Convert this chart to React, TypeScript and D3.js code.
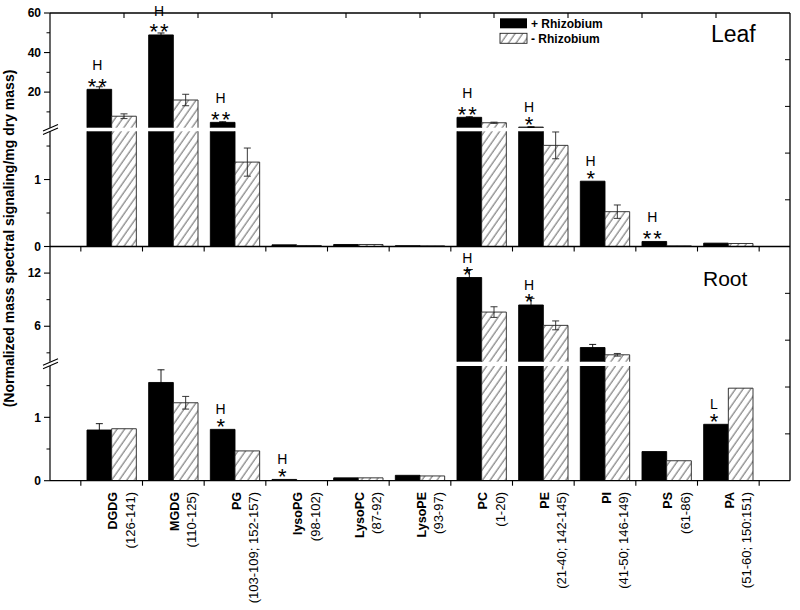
import React from "react";
import * as d3 from "d3";

const categories = ["DGDG", "MGDG", "PG", "lysoPG", "LysoPC", "LysoPE", "PC", "PE", "PI", "PS", "PA"];
const ranges = ["(126-141)", "(110-125)", "(103-109; 152-157)", "(98-102)", "(87-92)", "(93-97)", "(1-20)", "(21-40; 142-145)", "(41-50; 146-149)", "(61-86)", "(51-60; 150:151)"];
const seriesNames = ["+ Rhizobium", "- Rhizobium"];

const leafPlus = [21.4, 48.9, 4.7, 0.025, 0.03, 0.012, 7.25, 2.3, 0.975, 0.075, 0.05];
const leafPlusErr = [1.3, 1.0, 0.3, 0, 0, 0, 0.3, 0.2, 0, 0, 0];
const leafMinus = [7.8, 16.0, 1.26, 0.015, 0.03, 0.01, 4.5, 1.51, 0.52, 0.01, 0.045];
const leafMinusErr = [1.2, 2.9, 0.21, 0, 0, 0, 0.3, 0.2, 0.1, 0, 0];

const rootPlus = [0.8, 1.55, 0.81, 0.02, 0.045, 0.085, 11.5, 8.4, 3.6, 0.46, 0.89];
const rootPlusErr = [0.1, 0.2, 0, 0, 0, 0, 0.9, 0.75, 0.35, 0, 0];
const rootMinus = [0.82, 1.23, 0.47, 0.003, 0.045, 0.075, 7.6, 6.1, 2.78, 0.315, 1.46];
const rootMinusErr = [0, 0.1, 0, 0, 0, 0, 0.6, 0.5, 0.15, 0, 0];

const leafMarks = [
  { cat: "DGDG", level: "H", sig: "**" },
  { cat: "MGDG", level: "H", sig: "**" },
  { cat: "PG", level: "H", sig: "**" },
  { cat: "PC", level: "H", sig: "**" },
  { cat: "PE", level: "H", sig: "*" },
  { cat: "PI", level: "H", sig: "*" },
  { cat: "PS", level: "H", sig: "**" },
];
const rootMarks = [
  { cat: "PG", level: "H", sig: "*" },
  { cat: "lysoPG", level: "H", sig: "*" },
  { cat: "PC", level: "H", sig: "*" },
  { cat: "PE", level: "H", sig: "*" },
  { cat: "PA", level: "L", sig: "*" },
];

const leafLowerDomain = [0, 1.72];
const leafUpperDomain = [2, 60];
const leafLowerTicks = [0, 1];
const leafLowerMinor = [0.5, 1.5];
const leafUpperTicks = [20, 40, 60];
const leafUpperMinor = [10, 30, 50];

const rootLowerDomain = [0, 1.81];
const rootUpperDomain = [2, 15];
const rootLowerTicks = [0, 1];
const rootLowerMinor = [0.5, 1.5];
const rootUpperTicks = [6, 12];
const rootUpperMinor = [3, 9];

const yTitle = "(Normalized mass spectral signaling/mg dry mass)";
const FONT = "'Liberation Sans', Arial, Helvetica, sans-serif";

export default function App() {
  const W = 800, H = 610;
  const L = 50, R = 790, T = 13, M = 246.5, B = 480.7;

  const x = d3.scaleBand<string>().domain(categories).range([L, R]).paddingInner(0).paddingOuter(0.5);
  const bw = x.bandwidth();
  const xs = d3.scaleBand<string>().domain(["plus", "minus"]).range([0, bw]).paddingInner(0).paddingOuter(0.25);
  const sw = xs.bandwidth();
  const boundaries = categories.map((c) => x(c) as number).concat([(x(categories[categories.length - 1]) as number) + bw]);
  const topScale = d3.scaleLinear().domain([0, 10]).range([L, R]);

  const panels = [
    {
      name: "Leaf", nameX: 711, nameY: 41.5, nameSize: 23,
      plus: leafPlus, plusErr: leafPlusErr, minus: leafMinus, minusErr: leafMinusErr, marks: leafMarks,
      lower: d3.scaleLinear().domain(leafLowerDomain).range([M, 131.3]),
      upper: d3.scaleLinear().domain(leafUpperDomain).range([127.7, T]),
      lt: leafLowerTicks, lm: leafLowerMinor, ut: leafUpperTicks, um: leafUpperMinor,
      top: T, bottom: M, gapTop: 127.7, gapBottom: 131.3,
    },
    {
      name: "Root", nameX: 703, nameY: 286, nameSize: 21,
      plus: rootPlus, plusErr: rootPlusErr, minus: rootMinus, minusErr: rootMinusErr, marks: rootMarks,
      lower: d3.scaleLinear().domain(rootLowerDomain).range([B, 366]),
      upper: d3.scaleLinear().domain(rootUpperDomain).range([361.7, M]),
      lt: rootLowerTicks, lm: rootLowerMinor, ut: rootUpperTicks, um: rootUpperMinor,
      top: M, bottom: B, gapTop: 361.7, gapBottom: 366,
    },
  ];

  const renderPanel = (p: any, pi: number) => {
    const lowMax = p.lower.domain()[1];
    const upMin = p.upper.domain()[0];
    const upMax = p.upper.domain()[1];
    const yOf = (v: number) => (v <= lowMax ? p.lower(v) : v >= upMin ? p.upper(Math.min(v, upMax)) : p.lower(lowMax));
    const pieces = (v: number) => {
      const out: { y0: number; y1: number; isTop: boolean }[] = [];
      out.push({ y0: p.lower(0), y1: p.lower(Math.min(v, lowMax)), isTop: v <= lowMax });
      if (v > upMin) out.push({ y0: p.upper(upMin), y1: p.upper(Math.min(v, upMax)), isTop: true });
      return out;
    };
    const bars: any[] = [];
    const errs: any[] = [];
    categories.forEach((c, i) => {
      (["plus", "minus"] as const).forEach((s) => {
        const v = s === "plus" ? p.plus[i] : p.minus[i];
        const e = s === "plus" ? p.plusErr[i] : p.minusErr[i];
        const x0 = (x(c) as number) + (xs(s) as number);
        const x1 = x0 + sw;
        const fill = s === "plus" ? "#000" : "url(#hatch)";
        const stroke = s === "plus" ? "#000" : "#222";
        pieces(v).forEach((pc, k) => {
          const d = pc.isTop
            ? `M${x0},${pc.y0}V${pc.y1}H${x1}V${pc.y0}`
            : `M${x0},${pc.y0}V${pc.y1}M${x1},${pc.y1}V${pc.y0}`;
          bars.push(
            <g key={`${pi}-${c}-${s}-${k}`}>
              <rect x={x0} y={Math.min(pc.y0, pc.y1)} width={sw} height={Math.abs(pc.y0 - pc.y1)} fill={fill} />
              <path d={d} fill="none" stroke={stroke} strokeWidth={0.9} />
            </g>
          );
        });
        if (e > 0) {
          const cx = (x0 + x1) / 2;
          const ya = yOf(v - e), yb = yOf(v + e);
          errs.push(
            <g key={`e${pi}-${c}-${s}`} stroke={stroke} strokeWidth={0.9}>
              <line x1={cx} x2={cx} y1={ya} y2={yb} />
              <line x1={cx - 3.5} x2={cx + 3.5} y1={yb} y2={yb} />
              <line x1={cx - 3.5} x2={cx + 3.5} y1={ya} y2={ya} />
            </g>
          );
        }
      });
    });

    const marks = p.marks.map((m: any) => {
      const i = categories.indexOf(m.cat);
      const cx = (x(m.cat) as number) + (xs("plus") as number) + sw / 2 - 2;
      const topY = yOf(p.plus[i]);
      const starC = topY - 8;
      const labC = starC - (m.sig.length === 2 ? 16 : 12);
      return (
        <g key={`m${pi}-${m.cat}`} fontFamily={FONT} textAnchor="middle">
          <text x={cx} y={labC + 5} fontSize={14}>{m.level}</text>
          <text x={cx + (m.sig.length === 2 ? 1 : 0)} y={starC + 12.5} fontSize={22} letterSpacing={m.sig.length === 2 ? 2 : 0}>{m.sig}</text>
        </g>
      );
    });

    const rScale = d3.scaleLinear().domain([0, 5]).range([p.bottom, p.top]);
    const breakY = (p.gapTop + p.gapBottom) / 2;

    return (
      <g key={`panel${pi}`}>
        {bars}
        {errs}
        {marks}
        <line x1={L} x2={L} y1={p.top} y2={p.gapTop} stroke="#000" strokeWidth={1.2} />
        <line x1={L} x2={L} y1={p.gapBottom} y2={p.bottom} stroke="#000" strokeWidth={1.2} />
        <g stroke="#000" strokeWidth={1.1}>
          <line x1={L - 7} x2={L + 8} y1={breakY + 1.5} y2={breakY - 5} />
          <line x1={L - 7} x2={L + 8} y1={breakY + 5} y2={breakY - 1.5} />
        </g>
        {p.lt.map((t: number) => (
          <g key={`lt${t}`}>
            <line x1={L - 6} x2={L} y1={p.lower(t)} y2={p.lower(t)} stroke="#000" strokeWidth={1.1} />
            <text x={41} y={p.lower(t)} dy="0.35em" textAnchor="end" fontFamily={FONT} fontWeight="bold" fontSize={12}>{t}</text>
          </g>
        ))}
        {p.ut.map((t: number) => (
          <g key={`ut${t}`}>
            <line x1={L - 6} x2={L} y1={p.upper(t)} y2={p.upper(t)} stroke="#000" strokeWidth={1.1} />
            <text x={41} y={p.upper(t)} dy="0.35em" textAnchor="end" fontFamily={FONT} fontWeight="bold" fontSize={12}>{t}</text>
          </g>
        ))}
        {p.lm.map((t: number) => (
          <line key={`lm${t}`} x1={L - 3.5} x2={L} y1={p.lower(t)} y2={p.lower(t)} stroke="#000" strokeWidth={1} />
        ))}
        {p.um.map((t: number) => (
          <line key={`um${t}`} x1={L - 3.5} x2={L} y1={p.upper(t)} y2={p.upper(t)} stroke="#000" strokeWidth={1} />
        ))}
        {[1, 2, 3, 4].map((t) => (
          <line key={`r${t}`} x1={R - 5} x2={R} y1={rScale(t)} y2={rScale(t)} stroke="#000" strokeWidth={1} />
        ))}
        {boundaries.map((b, k) => (
          <line key={`b${k}`} x1={b} x2={b} y1={p.bottom} y2={p.bottom + 5} stroke="#000" strokeWidth={1.1} />
        ))}
        <text x={p.nameX} y={p.nameY} fontFamily={FONT} fontSize={p.nameSize}>{p.name}</text>
      </g>
    );
  };

  return (
    <svg width={W} height={H} style={{ display: "block", position: "absolute", left: 0, top: 0 }} xmlns="http://www.w3.org/2000/svg">
      <defs>
        <pattern id="hatch" patternUnits="userSpaceOnUse" width={6.2} height={10} patternTransform="rotate(35)">
          <rect x={-1} y={-1} width={8.2} height={12} fill="#fff" />
          <line x1={1} y1={-1} x2={1} y2={11} stroke="#222" strokeWidth={0.75} />
        </pattern>
      </defs>
      <rect width={W} height={H} fill="#fff" />
      {panels.map(renderPanel)}
      <g stroke="#000" strokeWidth={1.3} fill="none">
        <line x1={L} x2={R} y1={T} y2={T} />
        <line x1={L} x2={R} y1={M} y2={M} />
        <line x1={L} x2={R} y1={B} y2={B} />
        <line x1={R} x2={R} y1={T} y2={B} />
      </g>
      {d3.range(1, 10).map((k) => (
        <line key={`tt${k}`} x1={topScale(k)} x2={topScale(k)} y1={T} y2={T + 5} stroke="#000" strokeWidth={1.1} />
      ))}
      <rect x={500} y={18.3} width={27} height={10} fill="#000" />
      <text x={531} y={28} fontFamily={FONT} fontWeight="bold" fontSize={12}>{seriesNames[0]}</text>
      <rect x={500} y={33.3} width={27} height={10} fill="url(#hatch)" stroke="#222" strokeWidth={0.9} />
      <text x={531} y={43} fontFamily={FONT} fontWeight="bold" fontSize={12}>{seriesNames[1]}</text>
      <text transform={`translate(14, 238.5) rotate(-90)`} textAnchor="middle" fontFamily={FONT} fontWeight="bold" fontSize={14}>{yTitle}</text>
      {categories.map((c, i) => {
        const cx = (x(c) as number) + bw / 2;
        return (
          <g key={`xl${c}`} fontFamily={FONT} textAnchor="end">
            <text transform={`translate(${cx + 5.5}, 492) rotate(-90)`} fontWeight="bold" fontSize={12.5}>{c}</text>
            <text transform={`translate(${cx + 23}, 492) rotate(-90)`} fontSize={13}>{ranges[i]}</text>
          </g>
        );
      })}
    </svg>
  );
}
